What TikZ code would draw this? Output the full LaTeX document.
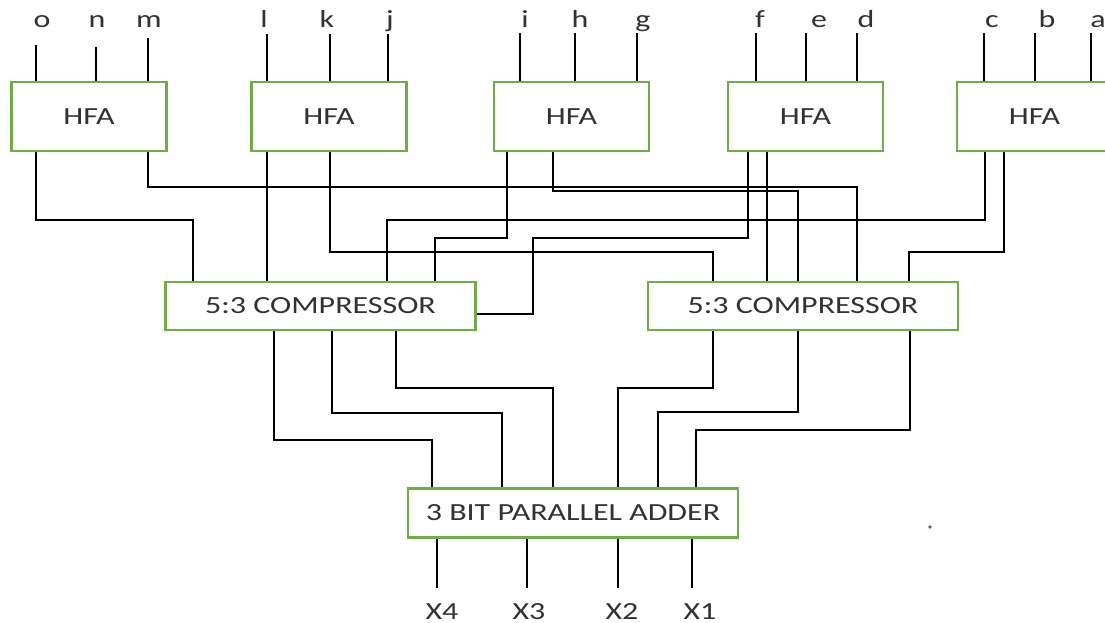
\documentclass[tikz,border=0pt]{standalone}
\usepackage{fontspec}
\usepackage{tikz}
\newfontfamily\blockfont[FakeStretch=1.3]{Carlito}
\definecolor{blockgreen}{RGB}{112,173,71}
\definecolor{blocktext}{RGB}{50,50,50}
\tikzset{
  block/.style={draw=blockgreen, line width=1.5pt, fill=white, inner sep=0pt,
    text=blocktext, font=\blockfont\fontsize{17.5}{20}\selectfont},
  hfa/.style={block, minimum width=3.875cm, minimum height=1.725cm},
  comp/.style={block, minimum width=7.75cm, minimum height=1.2cm},
  adder/.style={block, minimum width=8.25cm, minimum height=1.225cm},
  wire/.style={black, line width=2pt},
  pinlbl/.style={anchor=base, inner sep=0pt, text=blocktext,
    font=\blockfont\fontsize{17.5}{20}\selectfont}
}

\begin{document}
\begin{tikzpicture}[x=0.025cm, y=-0.025cm]
  \useasboundingbox (0,0) rectangle (1105,623);

  % --- HFA row
  \node[hfa] (hfa1) at (89,116.5) {HFA};
  \node[hfa] (hfa2) at (329,116.5) {HFA};
  \node[hfa] (hfa3) at (571.5,116.5) {HFA};
  \node[hfa] (hfa4) at (805.5,116.5) {HFA};
  \node[hfa] (hfa5) at (1034.5,116.5) {HFA};

  % --- Compressors and adder
  \node[comp] (comp1) at (320.5,306) {5:3 COMPRESSOR};
  \node[comp] (comp2) at (803,306) {5:3 COMPRESSOR};
  \node[adder] (adder) at (573,513) {3 BIT PARALLEL ADDER};

  % --- Inputs a..o
  \foreach \lbl/\lx/\px/\ytop/\blk in {o/42/36/45/hfa1, n/97/96/47/hfa1,
      m/149/148/38/hfa1, l/264/267/34/hfa2, k/327/330/34/hfa2, j/390/388/34/hfa2,
      i/525/520/33/hfa3, h/580/575/33/hfa3, g/643/637/33/hfa3,
      f/760/756/33/hfa4, e/819/806/33/hfa4, d/866/857/33/hfa4,
      c/992/984/33/hfa5, b/1047/1035/33/hfa5, a/1098/1091/33/hfa5}{
    \node[pinlbl] (lbl-\lbl) at (\lx,28) {\lbl};
    \draw[wire] (\blk.north -| \px,0) -- (\px,\ytop);
  }

  % --- HFA outputs to first compressor
  \draw[wire] (hfa1.south -| 36,0) |- (193,220) -- (comp1.north -| 193,0);
  \draw[wire] (hfa2.south -| 267,0) -- (comp1.north -| 267,0);
  \draw[wire] (hfa5.south -| 985,0) |- (387,220) -- (comp1.north -| 387,0);
  \draw[wire] (hfa3.south -| 507,0) |- (435,238) -- (comp1.north -| 435,0);
  \draw[wire] (hfa4.south -| 748,0) |- (533,238) |- (comp1.east |- 0,314);

  % --- HFA outputs to second compressor
  \draw[wire] (hfa2.south -| 330,0) |- (713,252) -- (comp2.north -| 713,0);
  \draw[wire] (hfa4.south -| 767,0) -- (comp2.north -| 767,0);
  \draw[wire] (hfa3.south -| 553,0) |- (798,191) -- (comp2.north -| 798,0);
  \draw[wire] (hfa1.south -| 148,0) |- (857,187) -- (comp2.north -| 857,0);
  \draw[wire] (hfa5.south -| 1004,0) |- (909,252) -- (comp2.north -| 909,0);

  % --- Compressor outputs to adder
  \draw[wire] (comp1.south -| 274,0) |- (432,440) -- (adder.north -| 432,0);
  \draw[wire] (comp1.south -| 332,0) |- (502,413) -- (adder.north -| 502,0);
  \draw[wire] (comp1.south -| 396,0) |- (553,388) -- (adder.north -| 553,0);
  \draw[wire] (comp2.south -| 713,0) |- (618,388) -- (adder.north -| 618,0);
  \draw[wire] (comp2.south -| 798,0) |- (658,412) -- (adder.north -| 658,0);
  \draw[wire] (comp2.south -| 910,0) |- (696,430) -- (adder.north -| 696,0);

  % --- Outputs X4..X1
  \foreach \outlbl/\px/\lx in {X4/437/442, X3/527/529, X2/618/622, X1/692/700}{
    \draw[wire] (adder.south -| \px,0) -- (\px,588);
    \node[pinlbl] (out-\outlbl) at (\lx,619) {\outlbl};
  }

  \fill[black!60] (930,527) circle[radius=1.3pt];
\end{tikzpicture}
\end{document}
